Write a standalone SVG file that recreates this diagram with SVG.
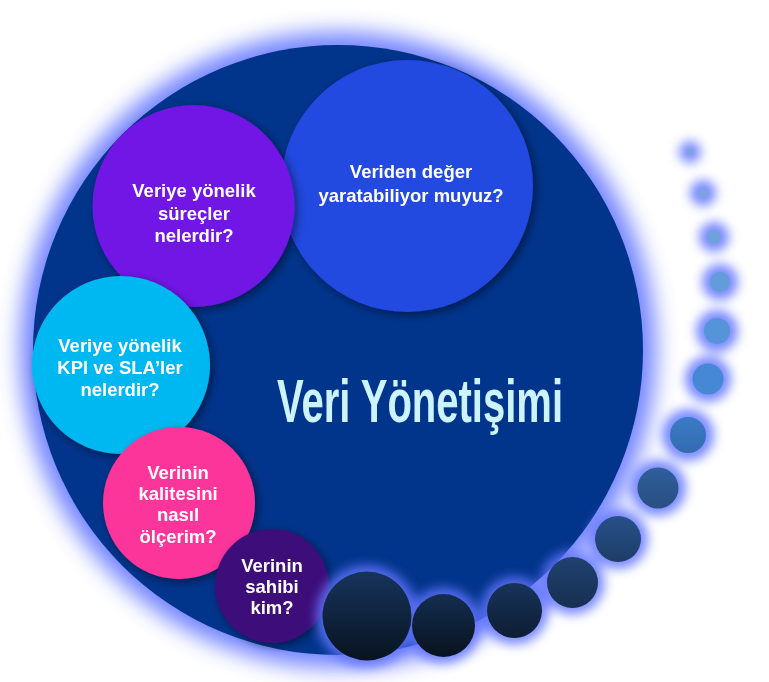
<svg xmlns="http://www.w3.org/2000/svg" width="769" height="682" viewBox="0 0 769 682">
  <defs>
    <style>
      .q { font-family: "Liberation Sans", Arial, sans-serif; font-weight: bold; font-size: 18.5px; fill: #ffffff; text-anchor: middle; }
      .title { font-family: "Liberation Sans", Arial, sans-serif; font-weight: bold; font-size: 62px; fill: #cdf3ff; }
      .glow { fill: #6274ff; }
    </style>
    <filter id="bigGlow" x="-20%" y="-20%" width="140%" height="140%">
      <feGaussianBlur stdDeviation="11"/>
    </filter>
    <filter id="dotGlow" x="-50%" y="-50%" width="200%" height="200%">
      <feGaussianBlur stdDeviation="5.5"/>
    </filter>
    <filter id="shadow" x="-20%" y="-20%" width="140%" height="140%">
      <feDropShadow dx="3" dy="3" stdDeviation="4" flood-color="#000010" flood-opacity="0.45"/>
    </filter>
    <linearGradient id="gDark1" x1="0" y1="0" x2="0" y2="1">
      <stop offset="0" stop-color="#17345c"/>
      <stop offset="1" stop-color="#08131f"/>
    </linearGradient>
    <linearGradient id="gDark2" x1="0" y1="0" x2="0" y2="1">
      <stop offset="0" stop-color="#142d50"/>
      <stop offset="1" stop-color="#08131f"/>
    </linearGradient>
    <linearGradient id="gDark3" x1="0" y1="0" x2="0" y2="1">
      <stop offset="0" stop-color="#18335a"/>
      <stop offset="1" stop-color="#0e1d33"/>
    </linearGradient>
    <linearGradient id="gDark4" x1="0" y1="0" x2="0" y2="1">
      <stop offset="0" stop-color="#204170"/>
      <stop offset="1" stop-color="#172f50"/>
    </linearGradient>
    <linearGradient id="gDark5" x1="0" y1="0" x2="0" y2="1">
      <stop offset="0" stop-color="#27508a"/>
      <stop offset="1" stop-color="#1e3d66"/>
    </linearGradient>
    <linearGradient id="gDark6" x1="0" y1="0" x2="0" y2="1">
      <stop offset="0" stop-color="#2f5f9c"/>
      <stop offset="1" stop-color="#284f80"/>
    </linearGradient>
    <linearGradient id="gDark7" x1="0" y1="0" x2="0" y2="1">
      <stop offset="0" stop-color="#3b7cc8"/>
      <stop offset="1" stop-color="#336bb0"/>
    </linearGradient>
  </defs>

  <!-- outer glow -->
  <circle cx="338" cy="350" r="318" fill="#6476ff" opacity="0.9" filter="url(#bigGlow)"/>

  <g id="veri-yonetisimi">
    <circle cx="338" cy="350" r="305" fill="#01348b"/>
    <text class="title" x="277" y="422" textLength="286" lengthAdjust="spacingAndGlyphs">Veri Yönetişimi</text>
  </g>

  <g id="node-deger" filter="url(#shadow)">
    <circle cx="407" cy="186" r="126" fill="#204ae0"/>
    <text class="q" x="411" y="178">Veriden değer</text>
    <text class="q" x="411" y="202">yaratabiliyor muyuz?</text>
  </g>

  <g id="node-surecler" filter="url(#shadow)">
    <circle cx="193.5" cy="206" r="101" fill="#7214e6"/>
    <text class="q" x="194" y="197">Veriye yönelik</text>
    <text class="q" x="194" y="219.5">süreçler</text>
    <text class="q" x="194" y="242">nelerdir?</text>
  </g>

  <g id="node-kpi" filter="url(#shadow)">
    <circle cx="121" cy="365" r="89" fill="#00b8f1"/>
    <text class="q" x="120" y="352">Veriye yönelik</text>
    <text class="q" x="120" y="374">KPI ve SLA’ler</text>
    <text class="q" x="120" y="396">nelerdir?</text>
  </g>

  <g id="node-kalite" filter="url(#shadow)">
    <circle cx="179" cy="503" r="76" fill="#fc359b"/>
    <text class="q" x="178" y="478.5">Verinin</text>
    <text class="q" x="178" y="500">kalitesini</text>
    <text class="q" x="178" y="521">nasıl</text>
    <text class="q" x="178" y="542.5">ölçerim?</text>
  </g>

  <g id="node-sahip" filter="url(#shadow)">
    <circle cx="272" cy="586" r="57" fill="#3c0b79"/>
    <text class="q" x="272" y="572">Verinin</text>
    <text class="q" x="272" y="593">sahibi</text>
    <text class="q" x="272" y="614">kim?</text>
  </g>

  <g id="connectors"/>

  <!-- dot glows -->
  <g id="dot-glows" filter="url(#dotGlow)" opacity="0.85">
    <circle class="glow" cx="690" cy="152" r="11"/>
    <circle class="glow" cx="703" cy="193" r="13"/>
    <circle class="glow" cx="714" cy="237" r="15"/>
    <circle class="glow" cx="720" cy="282" r="18"/>
    <circle class="glow" cx="717" cy="331" r="21"/>
    <circle class="glow" cx="708" cy="379" r="23"/>
    <circle class="glow" cx="688" cy="435" r="26"/>
    <circle class="glow" cx="658" cy="488" r="28"/>
    <circle class="glow" cx="618" cy="539" r="30"/>
    <circle class="glow" cx="572.5" cy="582.5" r="32"/>
    <circle class="glow" cx="514.5" cy="610.5" r="34"/>
    <circle class="glow" cx="443.5" cy="625.5" r="38"/>
    <circle class="glow" cx="367" cy="616" r="51"/>
  </g>

  <g id="dots">
    <circle cx="690" cy="152" r="3" fill="#7da2dc"/>
    <circle cx="703" cy="193" r="4.5" fill="#79a5dc"/>
    <circle cx="714" cy="237" r="7" fill="#6fa2dd"/>
    <circle cx="720" cy="282" r="10" fill="#629cda"/>
    <circle cx="717" cy="331" r="13" fill="#5594d8"/>
    <circle cx="708" cy="379" r="15.5" fill="#4788d6"/>
    <circle cx="688" cy="435" r="18" fill="url(#gDark7)"/>
    <circle cx="658" cy="488" r="20.5" fill="url(#gDark6)"/>
    <circle cx="618" cy="539" r="23" fill="url(#gDark5)"/>
    <circle cx="572.5" cy="582.5" r="25.5" fill="url(#gDark4)"/>
    <circle cx="514.5" cy="610.5" r="27.5" fill="url(#gDark3)"/>
    <circle cx="443.5" cy="625.5" r="31.5" fill="url(#gDark2)"/>
    <circle cx="367" cy="616" r="44.5" fill="url(#gDark1)"/>
  </g>
</svg>
